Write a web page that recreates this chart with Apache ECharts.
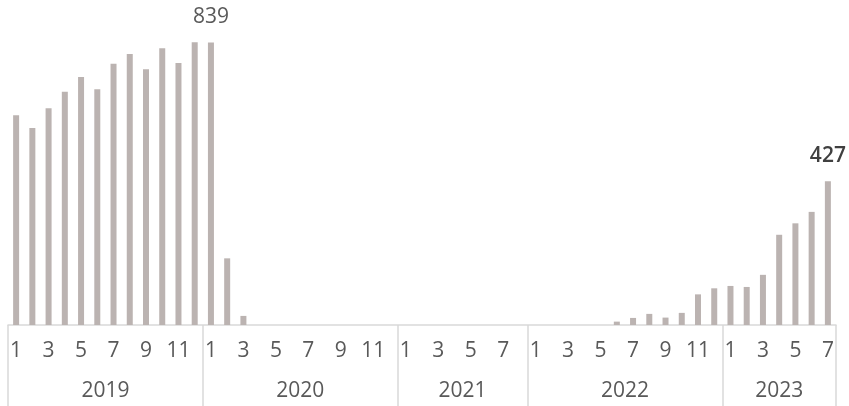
<!DOCTYPE html>
<html>
<head>
<meta charset="utf-8">
<script src="https://cdn.jsdelivr.net/npm/echarts@6/dist/echarts.min.js"></script>
<style>html,body{margin:0;padding:0;background:#fff}#c{width:849px;height:406px}</style>
</head>
<body>
<div id="c"></div>
<script>
const years = ['2019', '2020', '2021', '2022', '2023'];
const monthsPerYear = [12, 12, 8, 12, 7];
const values2019 = [623, 585, 644, 693, 737, 700, 776, 805, 760, 822, 778, 840];
const values2020 = [839, 198, 27, 0, 0, 0, 0, 0, 0, 0, 0, 0];
const values2021 = [0, 0, 0, 0, 0, 0, 0, 0];
const values2022 = [0, 0, 0, 0, 0, 10, 21, 33, 22, 36, 91, 109];
const values2023 = [116, 113, 149, 268, 302, 336, 427];
const labelledPoints = [['2020-1', 'normal', '#595959'], ['2023-7', 'bold', '#404040']];

const allValues = [].concat(values2019, values2020, values2021, values2022, values2023);
const categories = [];
years.forEach((y, i) => { for (let m = 1; m <= monthsPerYear[i]; m++) categories.push(y + '-' + m); });

const boundaries = [0];
monthsPerYear.forEach(n => boundaries.push(boundaries[boundaries.length - 1] + n));
const yearCenters = years.map((y, i) => (boundaries[i] + boundaries[i + 1]) / 2);

const data = allValues.map((v, i) => {
  const lp = labelledPoints.find(p => p[0] === categories[i]);
  if (!lp) return v;
  return {
    value: v,
    label: {
      show: true, position: 'top', distance: 15,
      fontFamily: 'Open Sans', fontSize: 21, fontWeight: lp[1] === 'bold' ? 600 : 400, color: lp[2]
    }
  };
});

const chart = echarts.init(document.getElementById('c'), null, { renderer: 'canvas' });
chart.setOption({
  animation: false,
  grid: { left: 8, right: 13, top: 22, bottom: 81 },
  xAxis: [
    {
      type: 'category', data: categories, position: 'bottom',
      axisLine: { show: true, lineStyle: { color: '#d9d9d9', width: 1.5 } },
      axisTick: { show: false },
      axisLabel: {
        interval: 1, margin: 16, fontFamily: 'Open Sans', fontSize: 21, color: '#595959',
        formatter: v => v.split('-')[1]
      }
    },
    {
      type: 'value', min: 0, max: boundaries[boundaries.length - 1], position: 'bottom', offset: 0,
      axisLine: { show: false },
      splitLine: { show: false },
      axisTick: { show: true, customValues: boundaries, length: 82, lineStyle: { color: '#d9d9d9', width: 1.5 } },
      axisLabel: {
        customValues: yearCenters, margin: 56, fontFamily: 'Open Sans', fontSize: 21, color: '#595959',
        formatter: v => { const i = yearCenters.indexOf(v); return i >= 0 ? years[i] : ''; }
      }
    }
  ],
  yAxis: { type: 'value', min: 0, max: 900, show: false, splitLine: { show: false } },
  series: [{
    type: 'bar', xAxisIndex: 0, yAxisIndex: 0, data: data, barWidth: 6,
    itemStyle: { color: '#bbb3b1' }
  }]
});
</script>
</body>
</html>
